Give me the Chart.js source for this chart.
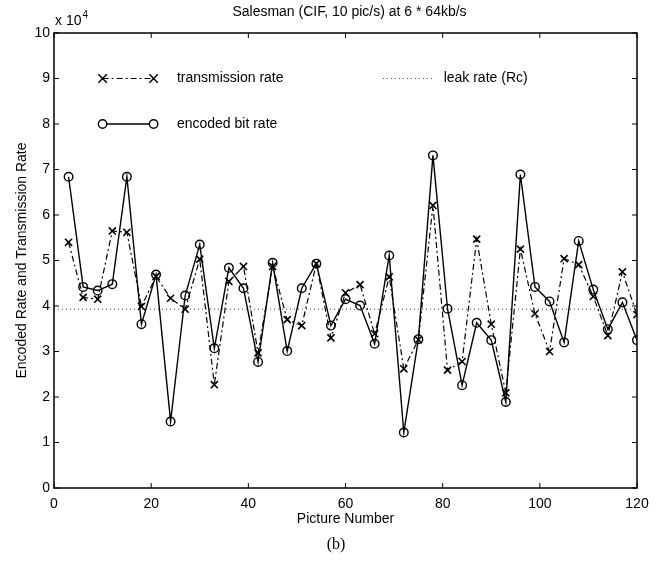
<!DOCTYPE html>
<html>
<head>
<meta charset="utf-8">
<script src="https://cdn.jsdelivr.net/npm/chart.js@4/dist/chart.umd.min.js"></script>
<style>
  html, body { margin: 0; padding: 0; background: #fff; }
  #wrap { width: 660px; height: 561px; }
</style>
</head>
<body>
<div id="wrap"><canvas id="c" width="660" height="561"></canvas></div>
<script>
// Picture numbers (x values)
const pictures = [3,6,9,12,15,18,21,24,27,30,33,36,39,42,45,48,51,54,57,60,
                  63,66,69,72,75,78,81,84,87,90,93,96,99,102,105,108,111,114,117,120];
// Transmission rate (units of 10^4 bit/s)
const transmissionRate = [5.40,4.19,4.15,5.65,5.62,3.99,4.65,4.17,3.93,5.03,
                          2.27,4.54,4.87,2.97,4.87,3.70,3.57,4.93,3.30,4.29,
                          4.47,3.39,4.64,2.62,3.26,6.21,2.59,2.78,5.47,3.60,
                          2.09,5.25,3.83,3.00,5.04,4.91,4.21,3.35,4.75,3.81];
// Encoded bit rate (units of 10^4 bit/s)
const encodedBitRate = [6.84,4.42,4.34,4.48,6.84,3.60,4.69,1.46,4.23,5.35,
                        3.07,4.84,4.39,2.77,4.95,3.01,4.39,4.93,3.57,4.15,
                        4.01,3.17,5.11,1.22,3.27,7.31,3.94,2.26,3.63,3.25,
                        1.89,6.89,4.42,4.10,3.20,5.43,4.36,3.49,4.08,3.25];
// Leak rate (Rc)
const leakRate = 3.93;
const leakX = [0, 120];
// Axis ticks
const xTicks = [0,20,40,60,80,100,120];
const yTicks = [0,1,2,3,4,5,6,7,8,9,10];
const titleText = 'Salesman (CIF, 10 pic/s) at 6 * 64kb/s';
const xTitle = 'Picture Number';
const yTitle = 'Encoded Rate and Transmission Rate';
const caption = '(b)';
const legendLabels = ['transmission rate', 'encoded bit rate', 'leak rate (Rc)'];

const FONT = '"Liberation Sans", Arial, Helvetica, sans-serif';
const SERIF = '"Liberation Serif", "Times New Roman", serif';
const DASHDOT = [6,3,2,3];
const DOTTED = [1,3];

const trans = pictures.map((p,i) => ({x:p, y:transmissionRate[i]}));
const enc = pictures.map((p,i) => ({x:p, y:encodedBitRate[i]}));
const leak = leakX.map(x => ({x:x, y:leakRate}));

const decor = {
  id: 'decor',
  afterDatasetsDraw(chart) {
    const ctx = chart.ctx;
    const a = chart.chartArea;
    const xs = chart.scales.x, ys = chart.scales.y;
    ctx.save();
    // box
    ctx.strokeStyle = '#000';
    ctx.lineWidth = 1.5;
    ctx.setLineDash([]);
    ctx.strokeRect(a.left, a.top, a.right - a.left, a.bottom - a.top);
    // inward ticks
    ctx.lineWidth = 1;
    const TL = 5;
    xTicks.forEach(v => {
      const px = xs.getPixelForValue(v);
      ctx.beginPath();
      ctx.moveTo(px, a.bottom); ctx.lineTo(px, a.bottom - TL);
      ctx.moveTo(px, a.top); ctx.lineTo(px, a.top + TL);
      ctx.stroke();
    });
    yTicks.forEach(v => {
      const py = ys.getPixelForValue(v);
      ctx.beginPath();
      ctx.moveTo(a.left, py); ctx.lineTo(a.left + TL, py);
      ctx.moveTo(a.right, py); ctx.lineTo(a.right - TL, py);
      ctx.stroke();
    });
    // legend
    const lx0 = xs.getPixelForValue(10), lx1 = xs.getPixelForValue(20.5);
    const tx = xs.getPixelForValue(25.3);
    const y1 = ys.getPixelForValue(9), y2 = ys.getPixelForValue(8);
    ctx.font = '14px ' + FONT;
    ctx.fillStyle = '#000';
    ctx.textBaseline = 'middle';
    ctx.textAlign = 'left';
    // transmission
    ctx.lineWidth = 1.2;
    ctx.setLineDash(DASHDOT);
    ctx.beginPath(); ctx.moveTo(lx0, y1); ctx.lineTo(lx1, y1); ctx.stroke();
    ctx.setLineDash([]);
    ctx.lineWidth = 1.5;
    [lx0, lx1].forEach(px => {
      const r = 4.2;
      ctx.beginPath();
      ctx.moveTo(px - r, y1 - r); ctx.lineTo(px + r, y1 + r);
      ctx.moveTo(px - r, y1 + r); ctx.lineTo(px + r, y1 - r);
      ctx.stroke();
    });
    ctx.fillText(legendLabels[0], tx, y1);
    // encoded
    ctx.lineWidth = 1.4;
    ctx.beginPath(); ctx.moveTo(lx0, y2); ctx.lineTo(lx1, y2); ctx.stroke();
    [lx0, lx1].forEach(px => {
      ctx.beginPath(); ctx.fillStyle = '#fff';
      ctx.arc(px, y2, 4.2, 0, Math.PI * 2); ctx.fill(); ctx.stroke();
    });
    ctx.fillStyle = '#000';
    ctx.fillText(legendLabels[1], tx, y2);
    // leak
    const kx0 = xs.getPixelForValue(67.7), kx1 = xs.getPixelForValue(77.8);
    ctx.lineWidth = 1;
    ctx.strokeStyle = '#444';
    ctx.setLineDash(DOTTED);
    ctx.beginPath(); ctx.moveTo(kx0, y1); ctx.lineTo(kx1, y1); ctx.stroke();
    ctx.setLineDash([]);
    ctx.fillText(legendLabels[2], xs.getPixelForValue(80.2), y1);

    // title
    ctx.textAlign = 'center';
    ctx.font = '14px ' + FONT;
    ctx.fillText(titleText, (a.left + a.right) / 2 + 4, 12);
    // exponent
    ctx.textAlign = 'left';
    ctx.font = '14px ' + FONT;
    ctx.fillText('x 10', a.left + 1, 21);
    const w = ctx.measureText('x 10').width;
    ctx.font = '10px ' + FONT;
    ctx.fillText('4', a.left + 1 + w + 1, 15);
    // x title
    ctx.textAlign = 'center';
    ctx.font = '14px ' + FONT;
    ctx.fillText(xTitle, (a.left + a.right) / 2, 519);
    // y title
    ctx.save();
    ctx.translate(22, (a.top + a.bottom) / 2);
    ctx.rotate(-Math.PI / 2);
    ctx.fillText(yTitle, 0, 0);
    ctx.restore();
    // caption
    ctx.font = '16px ' + SERIF;
    ctx.fillText(caption, 336, 545);
    ctx.restore();
  }
};

new Chart(document.getElementById('c'), {
  type: 'line',
  data: {
    datasets: [
      {
        label: 'leak rate (Rc)', data: leak,
        borderColor: '#444', borderWidth: 1, borderDash: DOTTED,
        pointRadius: 0, fill: false
      },
      {
        label: 'transmission rate', data: trans,
        borderColor: '#000', borderWidth: 1.2, borderDash: DASHDOT,
        pointStyle: 'crossRot', pointRadius: 5, pointBorderWidth: 1.6,
        pointBorderColor: '#000', pointBackgroundColor: '#000',
        fill: false, tension: 0
      },
      {
        label: 'encoded bit rate', data: enc,
        borderColor: '#000', borderWidth: 1.4,
        pointStyle: 'circle', pointRadius: 4.3, pointBorderWidth: 1.4,
        pointBorderColor: '#000', pointBackgroundColor: 'rgba(255,255,255,0)',
        fill: false, tension: 0
      }
    ]
  },
  options: {
    responsive: false,
    animation: false,
    devicePixelRatio: 1,
    layout: { padding: { left: 0, right: 23, top: 33, bottom: 0 } },
    plugins: { legend: { display: false }, title: { display: false }, tooltip: { enabled: false } },
    scales: {
      x: {
        type: 'linear', min: 0, max: 120,
        afterBuildTicks: s => { s.ticks = xTicks.map(v => ({value: v})); },
        ticks: { color: '#000', font: { family: FONT, size: 14 }, padding: 8, maxRotation: 0 },
        grid: { display: false, drawTicks: false },
        border: { display: false },
        afterFit: s => { s.height = 73; }
      },
      y: {
        type: 'linear', min: 0, max: 10,
        afterBuildTicks: s => { s.ticks = yTicks.map(v => ({value: v})); },
        ticks: { color: '#000', font: { family: FONT, size: 14 }, padding: 4 },
        grid: { display: false, drawTicks: false },
        border: { display: false },
        afterFit: s => { s.width = 54; }
      }
    }
  },
  plugins: [decor]
});
</script>
</body>
</html>
